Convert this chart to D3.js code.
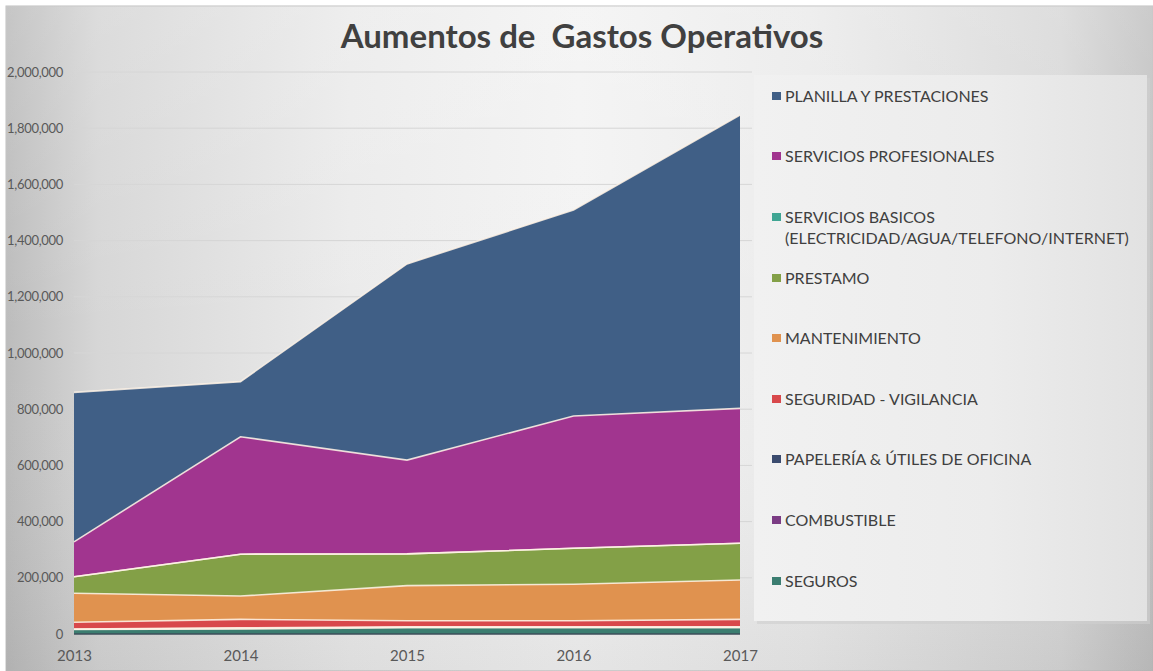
<!DOCTYPE html>
<html>
<head>
<meta charset="utf-8">
<script src="https://cdn.jsdelivr.net/npm/d3@7"></script>
<style>
  html, body { margin:0; padding:0; background:#ffffff; }
  svg { display:block; }
</style>
</head>
<body>
<svg id="chart" width="1153" height="671"></svg>
<script>
// ---------- DATA ----------
const years = ["2013", "2014", "2015", "2016", "2017"];
const seriesNames = [
  "SEGUROS",
  "COMBUSTIBLE",
  "PAPELERÍA & ÚTILES DE OFICINA",
  "SEGURIDAD - VIGILANCIA",
  "MANTENIMIENTO",
  "PRESTAMO",
  "SERVICIOS BASICOS (ELECTRICIDAD/AGUA/TELEFONO/INTERNET)",
  "SERVICIOS PROFESIONALES",
  "PLANILLA Y PRESTACIONES"
];
const seguros        = [16000, 18000, 22000, 22000, 22000];
const combustible    = [1000, 2000, 2000, 2000, 2000];
const papeleria      = [1000, 2000, 2000, 2000, 2000];
const seguridad      = [24000, 30000, 21000, 21000, 26000];
const mantenimiento  = [103000, 83000, 125000, 130000, 140000];
const prestamo       = [59000, 149000, 113000, 128000, 131000];
const serviciosBasicos = [0, 0, 0, 0, 0];
const profesionales  = [124000, 418000, 334000, 471000, 480000];
const planilla       = [532000, 196000, 698000, 733000, 1044000];
const seriesValues = [seguros, combustible, papeleria, seguridad, mantenimiento,
                      prestamo, serviciosBasicos, profesionales, planilla];
const colors = ["#3b7d70", "#7b3c84", "#3b4b6e", "#d8484b", "#e0924f",
                "#83a047", "#3fa593", "#a1358f", "#405f86"];
const yTicks = [0, 200000, 400000, 600000, 800000, 1000000, 1200000, 1400000, 1600000, 1800000, 2000000];
const title = "Aumentos de  Gastos Operativos";

// ---------- LAYOUT ----------
const svg = d3.select("#chart");
const W = 1153, H = 671;
const plot = { left: 74, right: 740, top: 72, bottom: 634 };
const FONT = "Lato, 'Noto Sans', sans-serif";

const defs = svg.append("defs");
const bg = defs.append("linearGradient").attr("id", "bg").attr("x1", "0").attr("x2", "1").attr("y1", "0").attr("y2", "0");
[[0, "#bcbcbc"], [0.08, "#d6d6d6"], [0.3, "#ebebeb"], [0.5, "#f3f3f3"], [0.7, "#ebebeb"], [0.92, "#d8d8d8"], [1, "#c2c2c2"]]
  .forEach(([o, c]) => bg.append("stop").attr("offset", o).attr("stop-color", c));
const bgV = defs.append("linearGradient").attr("id", "bgV").attr("x1", "0").attr("x2", "0").attr("y1", "0").attr("y2", "1");
[[0, "#ffffff", 0.15], [0.5, "#ffffff", 0], [1, "#000000", 0.06]]
  .forEach(([o, c, a]) => bgV.append("stop").attr("offset", o).attr("stop-color", c).attr("stop-opacity", a));
const lg = defs.append("linearGradient").attr("id", "lg").attr("x1", "0").attr("x2", "1").attr("y1", "0").attr("y2", "0");
[[0, "#f1f1f1"], [0.6, "#ececec"], [1, "#e2e2e2"]]
  .forEach(([o, c]) => lg.append("stop").attr("offset", o).attr("stop-color", c));

svg.append("rect").attr("x", 6).attr("y", 6).attr("width", W - 6).attr("height", H - 6)
  .attr("fill", "url(#bg)").attr("stroke", "#bfbfbf").attr("stroke-width", 1);
svg.append("rect").attr("x", 6).attr("y", 6).attr("width", W - 6).attr("height", H - 6)
  .attr("fill", "url(#bgV)");

// Title
svg.append("text").attr("x", 582).attr("y", 48).attr("text-anchor", "middle")
  .attr("font-family", FONT).attr("font-weight", "bold")
  .attr("font-size", 33).attr("fill", "#404040")
  .attr("xml:space", "preserve").text(title);

// Scales
const x = d3.scalePoint().domain(years).range([plot.left, plot.right]);
const y = d3.scaleLinear().domain([0, 2000000]).range([plot.bottom, plot.top]);

// Gridlines
svg.append("g").selectAll("line").data(yTicks.filter(d => d > 0)).join("line")
  .attr("x1", plot.left).attr("x2", 752)
  .attr("y1", d => y(d)).attr("y2", d => y(d))
  .attr("stroke", "#d6d6d6").attr("stroke-width", 1);

// Y axis
const yAxis = d3.axisLeft(y).tickValues(yTicks).tickFormat(d3.format(",")).tickSize(0).tickPadding(11);
const ya = svg.append("g").attr("transform", `translate(${plot.left},0)`).call(yAxis);
ya.select(".domain").remove();
ya.selectAll("text").attr("font-family", FONT).attr("font-size", 13).attr("letter-spacing", "-0.3px").attr("fill", "#595959");

// X axis
const xAxis = d3.axisBottom(x).tickSize(0).tickPadding(16);
const xa = svg.append("g").attr("transform", `translate(0,${plot.bottom})`).call(xAxis);
xa.select(".domain").remove();
xa.selectAll("text").attr("font-family", FONT).attr("font-size", 15).attr("fill", "#595959");

// Stack
const table = years.map((yr, i) => {
  const row = { year: yr };
  seriesNames.forEach((n, k) => row[n] = seriesValues[k][i]);
  return row;
});
const stacked = d3.stack().keys(seriesNames)(table);
const area = d3.area().x(d => x(d.data.year)).y0(d => y(d[0])).y1(d => y(d[1]));
const line = d3.line().x(d => x(d.data.year)).y(d => y(d[1]));

svg.append("g").selectAll("path").data(stacked).join("path")
  .attr("d", area).attr("fill", (d, i) => colors[i]);
svg.append("g").selectAll("path").data(stacked).join("path")
  .attr("d", line).attr("fill", "none")
  .attr("stroke", "#fff3e6").attr("stroke-opacity", 0.85).attr("stroke-width", 1.6);

// baseline
svg.append("line").attr("x1", plot.left).attr("x2", plot.right)
  .attr("y1", plot.bottom).attr("y2", plot.bottom)
  .attr("stroke", "#3c4e5a").attr("stroke-width", 1.5);

// Legend
const legX = 754, legY = 75, legW = 393, legH = 546;
svg.append("rect").attr("x", legX + 3).attr("y", legY + 3).attr("width", legW).attr("height", legH)
  .attr("fill", "#cfcfcf").attr("opacity", 0.6);
svg.append("rect").attr("x", legX).attr("y", legY).attr("width", legW).attr("height", legH)
  .attr("fill", "url(#lg)");

const legendItems = seriesNames.map((n, i) => ({ name: n, color: colors[i] })).reverse();
const legendYs = [96, 156, 217, 278, 338, 399, 459, 520, 581];
const lgG = svg.append("g");
legendItems.forEach((it, i) => {
  const cy = legendYs[i];
  lgG.append("rect").attr("x", 772).attr("y", cy - 4).attr("width", 9).attr("height", 8).attr("fill", it.color);
  const lines = it.name.startsWith("SERVICIOS BASICOS")
    ? ["SERVICIOS BASICOS", "(ELECTRICIDAD/AGUA/TELEFONO/INTERNET)"] : [it.name];
  lines.forEach((t, j) => {
    lgG.append("text").attr("x", 785).attr("y", cy + j * 21.5).attr("dy", "0.36em")
      .attr("font-family", FONT).attr("font-size", 16)
      .attr("fill", "#404040").text(t);
  });
});
</script>
</body>
</html>
